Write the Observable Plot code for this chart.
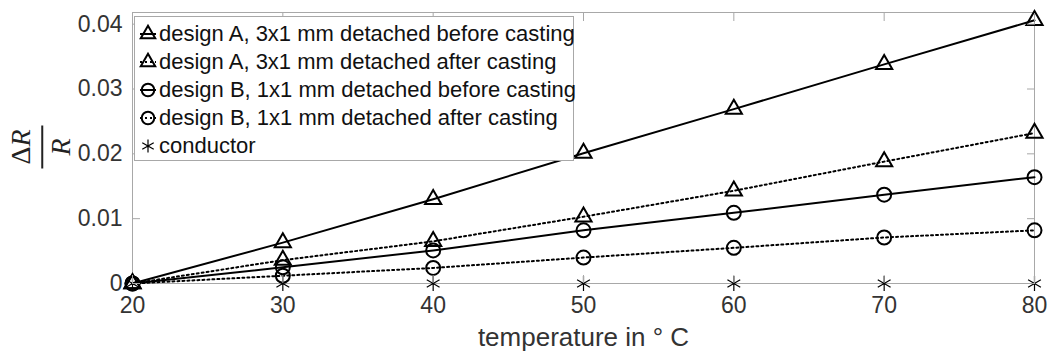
<!DOCTYPE html>
<html>
<head>
<meta charset="utf-8">
<script src="https://cdn.jsdelivr.net/npm/d3@7"></script>
<script src="https://cdn.jsdelivr.net/npm/@observablehq/plot@0.6"></script>
<style>
  html, body { margin: 0; padding: 0; background: #fff; }
  #wrap { position: relative; width: 1051px; height: 352px; font-family: "Liberation Sans", Arial, sans-serif; color: #333; }
  #legend { position: absolute; left: 134px; top: 16px; width: 438px; height: 140px; border: 1px solid #a8a8a8; background: #fff; box-sizing: content-box; padding-top: 3px; }
  .row { height: 28px; display: flex; align-items: center; font-size: 22px; color: #111; white-space: nowrap; }
  .row svg { margin-left: 2px; margin-right: 0px; flex: none; }
  #ylab { position: absolute; left: 41px; top: 147px; transform: translate(-50%, -50%) rotate(-90deg); font-family: "Liberation Serif", "DejaVu Serif", serif; font-size: 28px; color: #222; display: flex; flex-direction: column; align-items: center; line-height: 1; }
  #ylab .num, #ylab .den { font-style: italic; }
  #ylab .num .d { font-style: normal; }
  #ylab .bar { width: 43px; height: 1.5px; background: #222; margin: 6px 0 4px 0; }
  svg text { font-family: "Liberation Sans", Arial, sans-serif; }
</style>
</head>
<body>
<div id="wrap"></div>
<script>
// ---- data ----
const temps = [20, 30, 40, 50, 60, 70, 80];
const aBefore = [0, 0.0063, 0.0130, 0.0201, 0.0269, 0.0338, 0.0406];
const aAfter  = [0, 0.0036, 0.0065, 0.0103, 0.0143, 0.0188, 0.0232];
const bBefore = [0, 0.0025, 0.0051, 0.0082, 0.0109, 0.0137, 0.0164];
const bAfter  = [0, 0.0012, 0.0024, 0.0040, 0.0055, 0.0071, 0.0082];
const conductor = [0, 0, 0, 0, 0, 0, 0];
const seriesNames = [
  "design A, 3x1 mm detached before casting",
  "design A, 3x1 mm detached after casting",
  "design B, 1x1 mm detached before casting",
  "design B, 1x1 mm detached after casting",
  "conductor"
];
const xTicks = [20, 30, 40, 50, 60, 70, 80];
const yTicks = [0, 0.01, 0.02, 0.03, 0.04];
const xLabel = "temperature in ° C";

// ---- build ----
const seriesValues = [aBefore, aAfter, bBefore, bAfter, conductor];
const rowsOf = (i) => temps.map((t, j) => ({t, v: seriesValues[i][j], s: seriesNames[i]}));
const styles = [
  {symbol: "triangle", dash: null, line: true, r: 6, sw: 2},
  {symbol: "triangle", dash: "2,3", line: true, r: 6, sw: 2},
  {symbol: "circle", dash: null, line: true, r: 7, sw: 2},
  {symbol: "circle", dash: "2,3", line: true, r: 7, sw: 2},
  {symbol: "asterisk", dash: null, line: false, r: 7, sw: 1.2}
];

const marks = [Plot.frame({stroke: "#a8a8a8"})];
styles.forEach((st, i) => {
  if (st.line) marks.push(Plot.line(rowsOf(i), {x: "t", y: "v", stroke: "black", strokeWidth: 2, strokeDasharray: st.dash}));
});
styles.forEach((st, i) => {
  marks.push(Plot.dot(rowsOf(i), {x: "t", y: "v", symbol: st.symbol, r: st.r, stroke: "black", strokeWidth: st.sw, fill: "none"}));
});

const yFmt = d => d === 0 ? "0" : d3.format(".2f")(d);
marks.push(
  Plot.axisX({anchor: "bottom", ticks: xTicks, tickSize: 0, tickPadding: 13, fontSize: 23, label: null, fill: "#333"}),
  Plot.axisX({anchor: "bottom", ticks: [], tickSize: 0, label: xLabel, labelAnchor: "center", labelArrow: "none", labelOffset: 62, fontSize: 26, fill: "#333"}),
  Plot.axisX({anchor: "bottom", ticks: xTicks, tickSize: -8, tickFormat: () => "", label: null, stroke: "#a8a8a8"}),
  Plot.axisX({anchor: "top", ticks: xTicks, tickSize: -8, tickFormat: () => "", label: null, stroke: "#a8a8a8"}),
  Plot.axisY({anchor: "left", ticks: yTicks, tickSize: 0, tickPadding: 10, fontSize: 23, tickFormat: yFmt, label: null, fill: "#333"}),
  Plot.axisY({anchor: "left", ticks: yTicks, tickSize: -8, tickFormat: () => "", label: null, stroke: "#a8a8a8"}),
  Plot.axisY({anchor: "right", ticks: yTicks, tickSize: -8, tickFormat: () => "", label: null, stroke: "#a8a8a8"})
);

const chart = Plot.plot({
  width: 1051,
  height: 352,
  marginLeft: 132,
  marginRight: 17,
  marginTop: 12,
  marginBottom: 69,
  style: {fontFamily: "Liberation Sans, Arial, sans-serif", fontSize: "22px", color: "#333", background: "#fff"},
  x: {domain: [20, 80]},
  y: {domain: [0, 0.0418]},
  marks
});

const wrap = document.getElementById("wrap");
wrap.appendChild(chart);

// y label: ΔR / R
const ylab = document.createElement("div");
ylab.id = "ylab";
ylab.innerHTML = '<span class="num"><span class="d">Δ</span>R</span><div class="bar"></div><span class="den">R</span>';
wrap.appendChild(ylab);

// legend
const legend = document.createElement("div");
legend.id = "legend";
const symMap = {triangle: d3.symbolTriangle, circle: d3.symbolCircle, asterisk: d3.symbolAsterisk};
styles.forEach((st, i) => {
  const row = document.createElement("div");
  row.className = "row";
  const svg = d3.create("svg").attr("width", 22).attr("height", 28);
  const g = svg.append("g").attr("transform", "translate(11,14)");
  if (st.line) {
    g.append("line").attr("x1", -8).attr("x2", 8).attr("stroke", "black").attr("stroke-width", 2).attr("stroke-dasharray", st.dash);
  }
  g.append("path").attr("d", d3.symbol(symMap[st.symbol], Math.PI * st.r * st.r * 0.8)()).attr("fill", "none").attr("stroke", "black").attr("stroke-width", st.sw);
  row.appendChild(svg.node());
  const span = document.createElement("span");
  span.textContent = seriesNames[i];
  row.appendChild(span);
  legend.appendChild(row);
});
wrap.appendChild(legend);
</script>
</body>
</html>
